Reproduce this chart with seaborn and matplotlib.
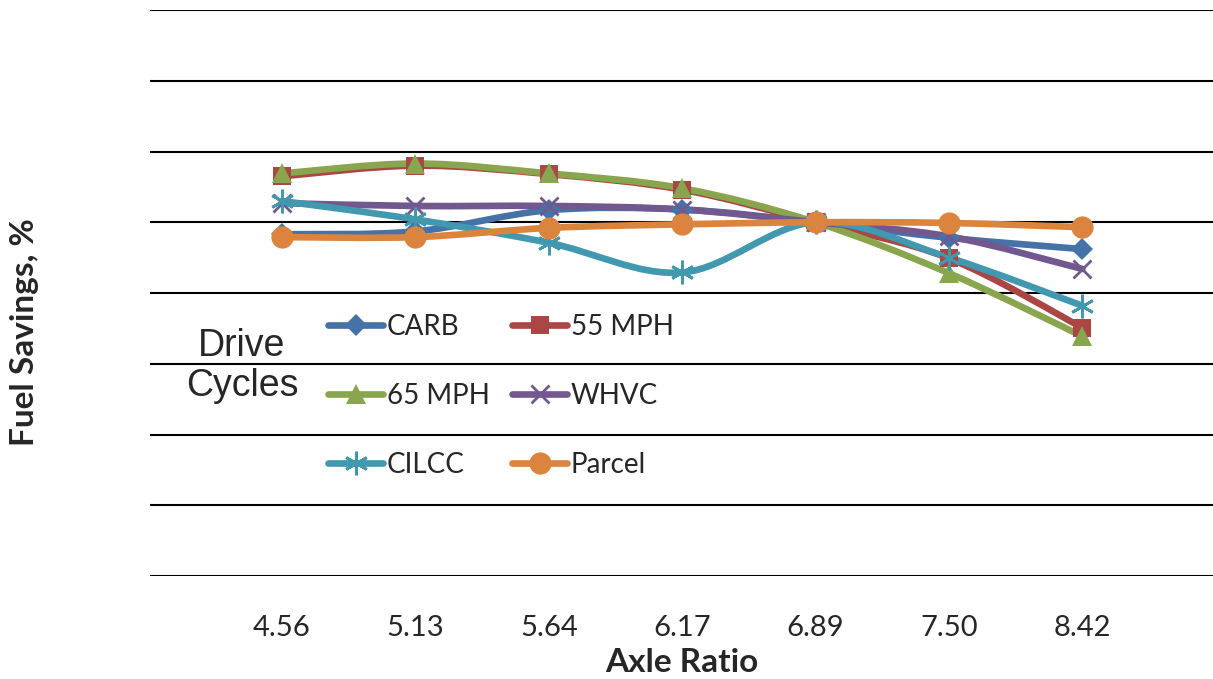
import numpy as np
import pandas as pd
import matplotlib
matplotlib.use("Agg")
import matplotlib.pyplot as plt
import seaborn as sns
from matplotlib.path import Path
from matplotlib.patches import PathPatch
from matplotlib.lines import Line2D

axle_ratios = ["4.56", "5.13", "5.64", "6.17", "6.89", "7.50", "8.42"]
carb   = [-0.17, -0.13, 0.17, 0.18, 0.0, -0.22, -0.38]
mph55  = [0.65, 0.80, 0.68, 0.46, 0.0, -0.51, -1.49]
mph65  = [0.69, 0.83, 0.69, 0.48, 0.0, -0.72, -1.61]
whvc   = [0.27, 0.23, 0.23, 0.18, 0.0, -0.20, -0.66]
cilcc  = [0.30, 0.04, -0.29, -0.71, 0.0, -0.50, -1.18]
parcel = [-0.21, -0.21, -0.08, -0.03, 0.0, -0.01, -0.07]

series_names = ["CARB", "55 MPH", "65 MPH", "WHVC", "CILCC", "Parcel"]
series_vals = [carb, mph55, mph65, whvc, cilcc, parcel]
colors = ["#4572A7", "#AA4643", "#89A54E", "#71588F", "#4198AF", "#DB843D"]
markers = ["D", "s", "^", "x", (6, 2, 0), "o"]
msizes = [11, 13, 15, 13, 17, 16]

rows = []
for name, vals in zip(series_names, series_vals):
    for i, v in enumerate(vals):
        rows.append({"pos": i, "ratio": axle_ratios[i], "series": name, "value": v})
df = pd.DataFrame(rows)

sns.set_theme(style="white")
plt.rcParams["font.family"] = ["Lato", "DejaVu Sans"]

fig = plt.figure(figsize=(12.13, 6.79), dpi=100)
ax = fig.add_axes([150 / 1213, 1 - 576 / 679, 1 - 150 / 1213, (576 - 10) / 679])


def smooth_path(xs, ys, t=1 / 6):
    # Catmull-Rom style Bezier control points (Excel-like smoothed line)
    pts = np.column_stack([xs, ys]).astype(float)
    n = len(pts)
    verts = [pts[0]]
    codes = [Path.MOVETO]
    for i in range(n - 1):
        p0 = pts[i - 1] if i > 0 else pts[i]
        p1 = pts[i]
        p2 = pts[i + 1]
        p3 = pts[i + 2] if i + 2 < n else pts[i + 1]
        c1 = p1 + (p2 - p0) * t
        c2 = p2 - (p3 - p1) * t
        verts += [c1, c2, p2]
        codes += [Path.CURVE4] * 3
    return Path(verts, codes)


for k, (name, col) in enumerate(zip(series_names, colors)):
    sub = df[df["series"] == name]
    path = smooth_path(sub["pos"].values, sub["value"].values)
    ax.add_patch(PathPatch(path, facecolor="none", edgecolor=col, lw=4.8,
                           capstyle="round", joinstyle="round", zorder=2 + k * 0.1))

for k, (name, col, m, ms) in enumerate(zip(series_names, colors, markers, msizes)):
    sub = df[df["series"] == name]
    lw_m = 2.0 if m in ("x", (6, 2, 0)) else 0
    sns.lineplot(data=sub, x="pos", y="value", ax=ax, linestyle="none",
                 marker=m, markersize=ms, color=col, markeredgecolor=col,
                 markeredgewidth=lw_m, legend=False, zorder=3 + k * 0.1)

ax.set_xlim(-0.99, 6.98)
ax.set_ylim(-5, 3)
ax.set_yticks(np.arange(-5, 4, 1))
ax.set_yticklabels([])
ax.yaxis.grid(True, color="black", lw=1.5)
ax.xaxis.grid(False)
ax.set_xticks(range(len(axle_ratios)))
ax.set_xticklabels(axle_ratios, fontsize=21)
ax.tick_params(axis="x", length=0, pad=28)
ax.tick_params(axis="y", length=0)
for s in ax.spines.values():
    s.set_visible(False)
ax.set_xlabel("Axle Ratio", fontsize=24, fontweight="bold", labelpad=5)
ax.set_ylabel("")
fig.text(25 / 1213, 1 - 332 / 679, "Fuel Savings, %", rotation=90, fontsize=24,
         fontweight="bold", ha="center", va="center")

handles = []
order = [0, 2, 4, 1, 3, 5]
for i in order:
    lw_m = 2.0 if markers[i] in ("x", (6, 2, 0)) else 0
    handles.append(Line2D([0], [0], color=colors[i], lw=4.8, marker=markers[i],
                          markersize=msizes[i], markeredgecolor=colors[i],
                          markeredgewidth=lw_m, solid_capstyle="round"))
labels = [series_names[i] for i in order]
leg = ax.legend(handles, labels, ncol=2, loc="center left",
                bbox_to_anchor=((314 - 150) / 1063, 1 - (396 - 10) / 566),
                frameon=False, fontsize=20, handlelength=2.0, handletextpad=0.12,
                columnspacing=0.8, labelspacing=1.55, borderpad=0)
fig.text(242 / 1213, 1 - 366 / 679, "Drive\nCycles", fontsize=27,
         family="Liberation Sans", ha="center", va="center", linespacing=1.15)

fig.savefig("out.png", dpi=100)
